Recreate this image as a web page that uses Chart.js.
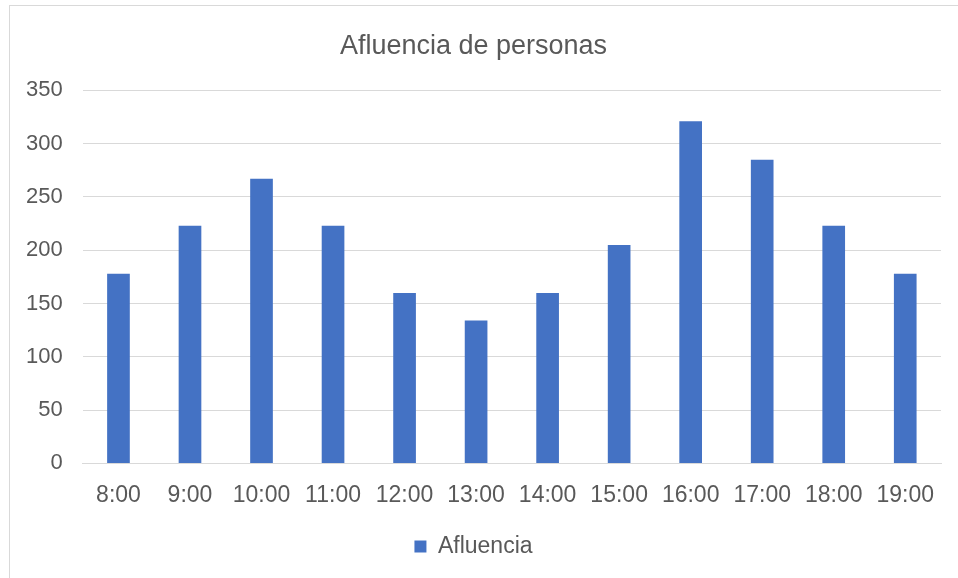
<!DOCTYPE html>
<html lang="es">
  <head>
    <meta charset="UTF-8" />
    <title>Afluencia de personas</title>
    <script src="https://cdn.jsdelivr.net/npm/chart.js"></script>
    <style>
      body {
        margin: 0;
        background: #fff;
        font-family: "Liberation Sans", sans-serif;
      }
      .marco {
        position: absolute;
        left: 9px;
        top: 5px;
        width: 960px;
        height: 590px;
        border: 1px solid #d9d9d9;
        box-sizing: border-box;
      }
      .contenedor {
        position: absolute;
        left: 0;
        top: 0;
        width: 958px;
        height: 578px;
      }
    </style>
  </head>
  <body>
    <div class="marco"></div>
    <div class="contenedor">
      <canvas id="grafico"></canvas>
    </div>
    <script>
      // datos
      const horas = ["8:00", "9:00", "10:00", "11:00", "12:00", "13:00", "14:00", "15:00", "16:00", "17:00", "18:00", "19:00"];
      const afluencia = [178, 223, 267, 223, 160, 134, 160, 205, 321, 285, 223, 178];
      const titulo = "Afluencia de personas";
      const serie = "Afluencia";

      const gris = "#595959";
      const fuente = "'Liberation Sans', sans-serif";

      const ctx = document.getElementById("grafico").getContext("2d");
      const chart = new Chart(ctx, {
        type: "bar",
        data: {
          labels: horas,
          datasets: [
            {
              label: serie,
              data: afluencia,
              backgroundColor: "#4472C4",
              barPercentage: 0.317,
              categoryPercentage: 1,
            },
          ],
        },
        options: {
          responsive: true,
          maintainAspectRatio: false,
          animation: false,
          layout: { padding: { left: 6, right: 17, top: 30, bottom: 10 } },
          plugins: {
            title: {
              display: true,
              text: titulo,
              color: gris,
              font: { family: fuente, size: 27, weight: "normal" },
              padding: { top: 0, bottom: 28 },
            },
            legend: {
              position: "bottom",
              labels: {
                color: gris,
                font: { family: fuente, size: 23 },
                boxWidth: 12,
                boxHeight: 12,
                padding: 11,
              },
            },
            tooltip: { enabled: false },
          },
          scales: {
            x: {
              grid: { display: false },
              border: { display: true, color: "#d9d9d9", width: 1 },
              ticks: {
                color: gris,
                font: { family: fuente, size: 23 },
                padding: 10,
                maxRotation: 0,
              },
              // deja algo de espacio entre las etiquetas y la leyenda
              afterFit: (escala) => {
                escala.height += 5;
              },
            },
            y: {
              min: 0,
              max: 350,
              grid: { color: "#d9d9d9", lineWidth: 1, drawTicks: false },
              border: { display: false },
              ticks: {
                stepSize: 50,
                color: gris,
                font: { family: fuente, size: 22 },
                padding: 20,
              },
            },
          },
        },
      });
    </script>
  </body>
</html>
